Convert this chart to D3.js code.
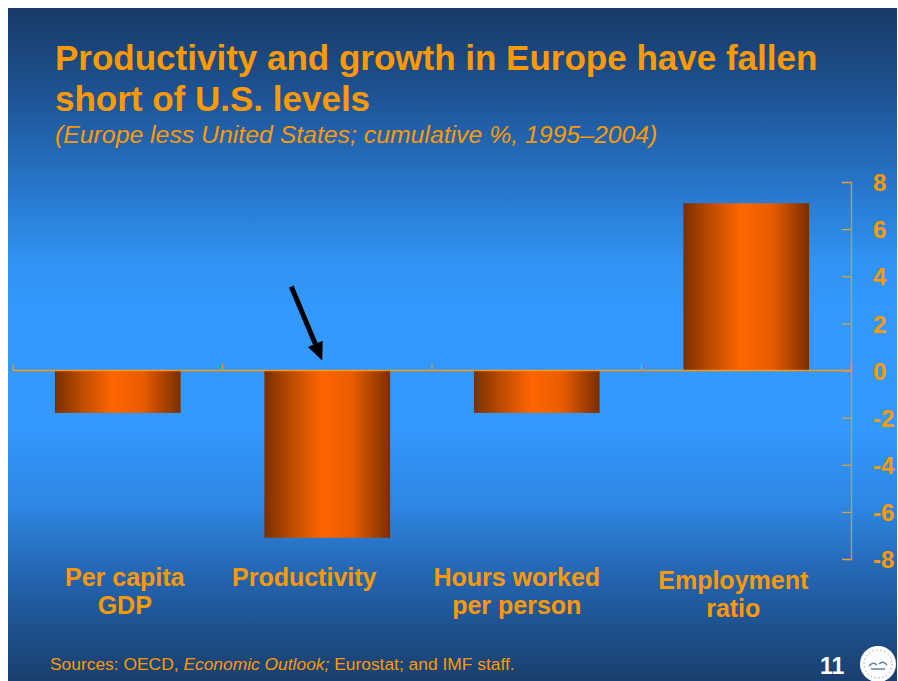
<!DOCTYPE html>
<html>
<head>
<meta charset="utf-8">
<script src="https://cdn.jsdelivr.net/npm/d3@7/dist/d3.min.js"></script>
<style>
  html, body { margin: 0; padding: 0; background: #ffffff; }
  svg { display: block; font-family: "Liberation Sans", Arial, sans-serif; }
</style>
</head>
<body>
<svg id="chart" width="898" height="681"></svg>
<script>
// Europe less United States, cumulative %, 1995–2004
const categories = ["Per capita GDP", "Productivity", "Hours worked per person", "Employment ratio"];
const categoryLines = [["Per capita", "GDP"], ["Productivity"], ["Hours worked", "per person"], ["Employment", "ratio"]];
const values = [-1.8, -7.1, -1.8, 7.1];
const yTicks = [8, 6, 4, 2, 0, -2, -4, -6, -8];
const yDomain = [-8, 8];

const titleLines = ["Productivity and growth in Europe have fallen", "short of U.S. levels"];
const subtitle = "(Europe less United States; cumulative %, 1995\u20132004)";
const pageNumber = "11";

// layout
const W = 898, H = 681;
const frame = { x: 8, y: 8 };
const plot = { left: 13, right: 851, top: 182, bottom: 559 };
const labelShift = [7, -23, -20, -13];   // horizontal nudge of the category captions
const labelBaseline = [586, 586, 586, 589];
const orange = "#ff9900";

const svg = d3.select("#chart");
const defs = svg.append("defs");

// backdrop: dark navy at the edges, bright blue around the middle
const bg = defs.append("linearGradient").attr("id", "bg")
  .attr("x1", 0).attr("y1", 0).attr("x2", 0).attr("y2", 1);
[[0, "#173a66"], [0.12, "#1d5190"], [0.25, "#2672c4"], [0.38, "#3094f4"], [0.46, "#3399ff"],
 [0.62, "#3399ff"], [0.74, "#2e86e2"], [0.84, "#2466b2"], [0.93, "#1d4f8a"], [1, "#193f6e"]]
  .forEach(([o, c]) => bg.append("stop").attr("offset", o).attr("stop-color", c));

// cylinder-like shading across each bar
const barGrad = defs.append("linearGradient").attr("id", "barGrad")
  .attr("x1", 0).attr("y1", 0).attr("x2", 1).attr("y2", 0);
[[0, "#7a2e00"], [0.2, "#b84a00"], [0.46, "#ff6600"], [0.7, "#e85c00"], [1, "#7a2e00"]]
  .forEach(([o, c]) => barGrad.append("stop").attr("offset", o).attr("stop-color", c));

svg.append("rect").attr("x", frame.x).attr("y", frame.y)
  .attr("width", W - frame.x - 1).attr("height", H - frame.y)
  .attr("fill", "url(#bg)");

// titles
const title = svg.append("text").attr("fill", orange)
  .attr("font-weight", "bold").attr("font-size", 35);
titleLines.forEach((t, i) => {
  title.append("tspan").attr("x", 55).attr("y", 70 + i * 41).text(t);
});
svg.append("text").attr("x", 55).attr("y", 143)
  .attr("fill", orange).attr("font-style", "italic").attr("font-size", 24.8)
  .text(subtitle);

// scales
const x = d3.scaleBand().domain(categories).range([plot.left, plot.right])
  .paddingInner(0.4).paddingOuter(0.2);
const y = d3.scaleLinear().domain(yDomain).range([plot.bottom, plot.top]);

// bars
svg.append("g").selectAll("rect").data(values).join("rect")
  .attr("x", (d, i) => x(categories[i]))
  .attr("width", x.bandwidth())
  .attr("y", d => y(Math.max(0, d)))
  .attr("height", d => Math.abs(y(d) - y(0)))
  .attr("fill", "url(#barGrad)");

// zero line with category dividers
const zero = svg.append("g").attr("stroke", orange).attr("stroke-width", 1.5).attr("fill", "none");
zero.append("line").attr("x1", plot.left).attr("x2", plot.right)
  .attr("y1", y(0)).attr("y2", y(0));
const bounds = d3.range(categories.length + 1).map(i => plot.left + i * (plot.right - plot.left) / categories.length);
zero.selectAll("line.div").data(bounds).join("line").attr("class", "div")
  .attr("x1", d => d).attr("x2", d => d)
  .attr("y1", y(0)).attr("y2", y(0) - 6)
  .attr("stroke-width", 1);

// value axis on the right
const yAxis = d3.axisRight(y).tickValues(yTicks).tickFormat(d => String(d))
  .tickSizeInner(-9).tickSizeOuter(-9).tickPadding(22);
const ax = svg.append("g").attr("transform", `translate(${plot.right},0)`).call(yAxis);
ax.select(".domain").attr("stroke", "#d89a40").attr("stroke-width", 1.5).attr("opacity", 0.85);
ax.selectAll(".tick line").attr("stroke", "#e8a030").attr("stroke-width", 1.2);
ax.selectAll(".tick text").attr("fill", orange).attr("font-size", 24)
  .attr("font-weight", "bold").attr("font-family", "Liberation Sans, Arial, sans-serif")
  .attr("dy", "0.36em");

// category captions
const cap = svg.append("g").attr("fill", orange).attr("font-weight", "bold")
  .attr("font-size", 25).attr("text-anchor", "middle");
categoryLines.forEach((lines, i) => {
  const cx = x(categories[i]) + x.bandwidth() / 2 + labelShift[i];
  lines.forEach((t, j) => {
    cap.append("text").attr("x", cx).attr("y", labelBaseline[i] + j * 28).text(t);
  });
});

// arrow pointing at the productivity bar
const px = x("Productivity") + x.bandwidth() / 2;
const tip = [px - 5, y(0) - 10];
const tail = [px - 36, y(0) - 84];
const ang = Math.atan2(tip[1] - tail[1], tip[0] - tail[0]);
const headLen = 18, headHalf = 8;
const base = [tip[0] - headLen * Math.cos(ang), tip[1] - headLen * Math.sin(ang)];
svg.append("line")
  .attr("x1", tail[0]).attr("y1", tail[1]).attr("x2", base[0]).attr("y2", base[1])
  .attr("stroke", "#000").attr("stroke-width", 5);
svg.append("path")
  .attr("d", d3.line()([
    tip,
    [base[0] + headHalf * Math.sin(ang), base[1] - headHalf * Math.cos(ang)],
    [base[0] - headHalf * Math.sin(ang), base[1] + headHalf * Math.cos(ang)]
  ]) + "Z")
  .attr("fill", "#000");

// footer
const src = svg.append("text").attr("x", 50).attr("y", 670)
  .attr("fill", orange).attr("font-size", 17.4);
src.append("tspan").text("Sources: OECD, ");
src.append("tspan").attr("font-style", "italic").text("Economic Outlook;");
src.append("tspan").text(" Eurostat; and IMF staff.");

svg.append("text").attr("x", 820).attr("y", 674)
  .attr("fill", "#ffffff").attr("font-weight", "bold").attr("font-size", 23)
  .text(pageNumber);

// seal
const seal = svg.append("g").attr("transform", "translate(878,664)");
seal.append("circle").attr("r", 18).attr("fill", "#ffffff");
seal.append("circle").attr("r", 14).attr("fill", "none").attr("stroke", "#6f8fb8")
  .attr("stroke-width", 0.8).attr("stroke-dasharray", "1.5 2.5");
seal.append("path").attr("d", "M-9,2 Q-5,-3 -1,1 M1,0 Q5,-4 9,1 M-7,5 L7,5")
  .attr("stroke", "#5d7fae").attr("stroke-width", 1.4).attr("fill", "none");
</script>
</body>
</html>
